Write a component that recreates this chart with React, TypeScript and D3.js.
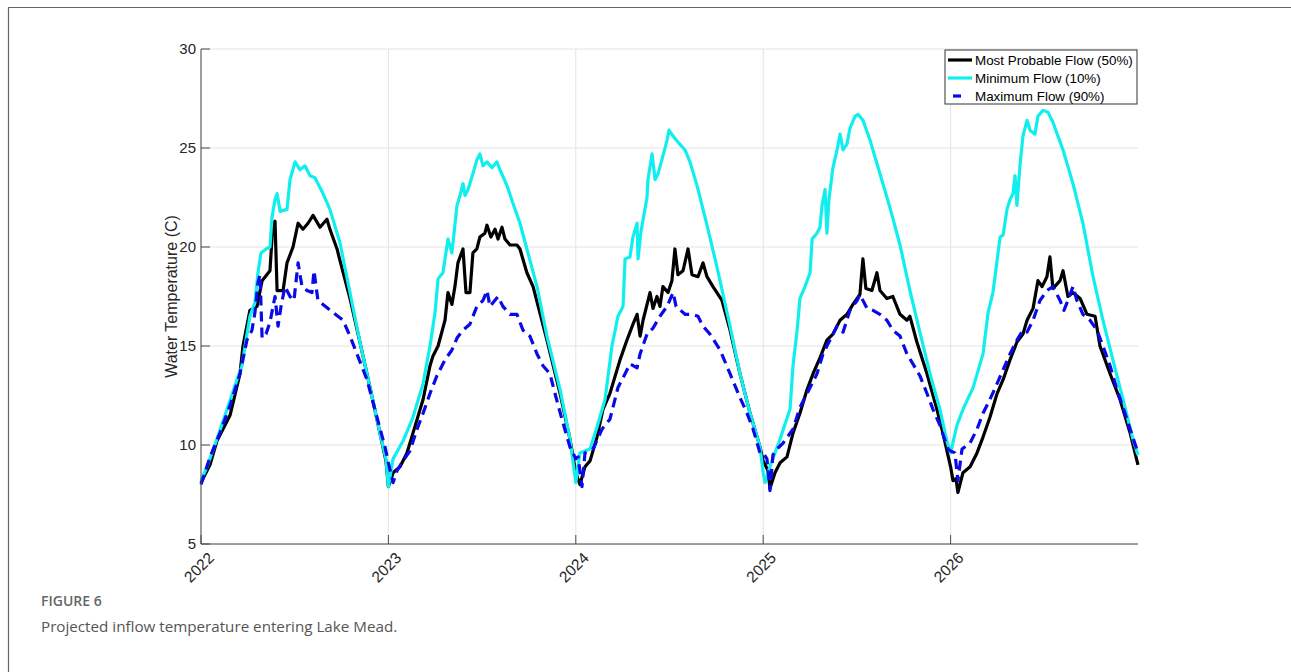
import React from "react";
import * as d3 from "d3";

const yearTicks = [2022, 2023, 2024, 2025, 2026];
const tempTicks = [5, 10, 15, 20, 25, 30];
const seriesNames = ["Most Probable Flow (50%)", "Minimum Flow (10%)", "Maximum Flow (90%)"];
const caption = "Projected inflow temperature entering Lake Mead.";

// [decimal year, water temperature °C]
const mostProbable: [number, number][] = [
  [2022.0, 8.1], [2022.048, 9.0], [2022.085, 10.2], [2022.155, 11.5], [2022.208, 13.6], [2022.224, 15.0],
  [2022.261, 16.8], [2022.299, 17.0], [2022.326, 18.3], [2022.368, 18.8], [2022.384, 21.2], [2022.395, 21.3],
  [2022.406, 17.8], [2022.438, 17.8], [2022.459, 19.2], [2022.491, 20.0], [2022.518, 21.2], [2022.544, 20.9],
  [2022.571, 21.2], [2022.598, 21.6], [2022.635, 21.0], [2022.672, 21.4], [2022.688, 20.9], [2022.726, 19.9],
  [2022.742, 19.3], [2022.795, 17.4], [2022.848, 15.2], [2022.902, 12.9], [2022.955, 10.6], [2022.987, 9.2],
  [2023.0, 7.9], [2023.025, 8.6], [2023.062, 8.9], [2023.099, 9.6], [2023.131, 10.6], [2023.185, 12.3],
  [2023.222, 14.0], [2023.238, 14.5], [2023.265, 15.0], [2023.302, 16.3], [2023.318, 17.7], [2023.339, 17.1],
  [2023.355, 18.0], [2023.371, 19.2], [2023.398, 19.9], [2023.414, 17.7], [2023.435, 17.7], [2023.451, 19.7],
  [2023.472, 19.9], [2023.488, 20.5], [2023.515, 20.7], [2023.526, 21.1], [2023.547, 20.5], [2023.569, 20.9],
  [2023.585, 20.4], [2023.606, 21.0], [2023.622, 20.4], [2023.649, 20.1], [2023.686, 20.1], [2023.702, 19.9],
  [2023.739, 18.7], [2023.772, 18.0], [2023.846, 15.3], [2023.916, 12.6], [2023.969, 10.3], [2024.0, 8.6],
  [2024.022, 8.0], [2024.049, 8.9], [2024.076, 9.2], [2024.113, 10.4], [2024.145, 11.8], [2024.182, 12.6],
  [2024.236, 14.3], [2024.273, 15.3], [2024.305, 16.1], [2024.327, 16.6], [2024.343, 15.5], [2024.359, 16.3],
  [2024.396, 17.7], [2024.412, 16.9], [2024.433, 17.5], [2024.449, 17.0], [2024.465, 18.0], [2024.492, 17.7],
  [2024.513, 18.3], [2024.529, 19.9], [2024.545, 18.6], [2024.572, 18.8], [2024.599, 19.9], [2024.62, 18.6],
  [2024.652, 18.5], [2024.679, 19.2], [2024.7, 18.5], [2024.732, 18.0], [2024.78, 17.3], [2024.823, 15.8],
  [2024.876, 13.6], [2024.93, 11.6], [2024.983, 9.9], [2025.0, 9.2], [2025.026, 8.7], [2025.036, 7.8],
  [2025.063, 8.6], [2025.09, 9.1], [2025.127, 9.4], [2025.159, 10.6], [2025.196, 11.6], [2025.234, 12.8],
  [2025.266, 13.6], [2025.303, 14.4], [2025.34, 15.3], [2025.372, 15.6], [2025.41, 16.3], [2025.447, 16.6],
  [2025.479, 17.1], [2025.516, 17.6], [2025.532, 19.4], [2025.548, 17.9], [2025.58, 17.8], [2025.607, 18.7],
  [2025.623, 17.8], [2025.66, 17.4], [2025.692, 17.5], [2025.73, 16.6], [2025.767, 16.3], [2025.783, 16.5],
  [2025.82, 15.2], [2025.874, 13.6], [2025.927, 11.8], [2025.959, 10.6], [2026.0, 8.9], [2026.013, 8.2],
  [2026.029, 8.3], [2026.039, 7.6], [2026.066, 8.6], [2026.104, 8.9], [2026.141, 9.6], [2026.173, 10.4],
  [2026.21, 11.4], [2026.248, 12.6], [2026.28, 13.3], [2026.317, 14.3], [2026.354, 15.2], [2026.386, 15.6],
  [2026.408, 16.3], [2026.44, 16.9], [2026.466, 18.3], [2026.488, 18.0], [2026.514, 18.5], [2026.53, 19.5],
  [2026.546, 17.9], [2026.584, 18.3], [2026.6, 18.8], [2026.626, 17.5], [2026.653, 17.7], [2026.691, 17.4],
  [2026.728, 16.6], [2026.771, 16.5], [2026.797, 15.0], [2026.851, 13.6], [2026.904, 12.3], [2026.958, 10.6],
  [2027.0, 9.0],
];

const minimumFlow: [number, number][] = [
  [2022.0, 8.2], [2022.032, 8.9], [2022.085, 10.3], [2022.139, 11.8], [2022.192, 13.3], [2022.219, 14.0],
  [2022.235, 15.0], [2022.261, 16.5], [2022.288, 17.2], [2022.304, 18.7], [2022.32, 19.7], [2022.347, 19.9],
  [2022.368, 20.0], [2022.379, 21.5], [2022.395, 22.4], [2022.406, 22.7], [2022.422, 21.8], [2022.459, 21.9],
  [2022.475, 23.4], [2022.502, 24.3], [2022.528, 23.9], [2022.555, 24.1], [2022.582, 23.6], [2022.608, 23.5],
  [2022.651, 22.7], [2022.688, 21.9], [2022.742, 20.2], [2022.795, 17.7], [2022.848, 15.2], [2022.902, 12.9],
  [2022.955, 10.6], [2022.987, 9.3], [2023.0, 7.9], [2023.025, 9.3], [2023.078, 10.2], [2023.131, 11.4],
  [2023.185, 13.1], [2023.222, 15.0], [2023.249, 16.7], [2023.265, 18.4], [2023.291, 18.7], [2023.318, 20.4],
  [2023.339, 19.7], [2023.366, 22.1], [2023.382, 22.6], [2023.398, 23.2], [2023.409, 22.6], [2023.425, 22.9],
  [2023.451, 23.7], [2023.472, 24.4], [2023.488, 24.7], [2023.505, 24.1], [2023.526, 24.3], [2023.553, 24.0],
  [2023.579, 24.3], [2023.595, 23.9], [2023.633, 23.1], [2023.665, 22.2], [2023.702, 21.2], [2023.739, 19.9],
  [2023.793, 18.0], [2023.846, 15.5], [2023.916, 12.8], [2023.969, 10.3], [2024.0, 8.1], [2024.022, 9.6],
  [2024.076, 9.8], [2024.113, 10.9], [2024.156, 12.3], [2024.193, 15.0], [2024.225, 16.5], [2024.252, 17.0],
  [2024.263, 19.4], [2024.289, 19.5], [2024.305, 20.5], [2024.327, 21.2], [2024.332, 19.4], [2024.348, 20.8],
  [2024.38, 22.5], [2024.385, 23.4], [2024.407, 24.7], [2024.423, 23.4], [2024.439, 23.7], [2024.465, 24.6],
  [2024.487, 25.4], [2024.497, 25.9], [2024.519, 25.6], [2024.545, 25.3], [2024.583, 24.9], [2024.609, 24.3],
  [2024.647, 23.1], [2024.7, 21.1], [2024.753, 19.0], [2024.823, 16.0], [2024.876, 13.6], [2024.93, 11.6],
  [2024.983, 9.9], [2025.0, 8.6], [2025.01, 8.1], [2025.036, 8.9], [2025.09, 10.3], [2025.143, 11.8],
  [2025.159, 14.0], [2025.18, 15.7], [2025.196, 17.4], [2025.223, 18.0], [2025.25, 18.7], [2025.261, 20.4],
  [2025.287, 20.7], [2025.303, 21.0], [2025.314, 22.1], [2025.33, 22.9], [2025.34, 20.7], [2025.351, 22.4],
  [2025.372, 24.0], [2025.394, 24.9], [2025.41, 25.7], [2025.426, 24.9], [2025.447, 25.2], [2025.463, 26.0],
  [2025.49, 26.6], [2025.506, 26.7], [2025.532, 26.4], [2025.57, 25.4], [2025.623, 23.7], [2025.676, 22.0],
  [2025.73, 20.1], [2025.783, 17.8], [2025.836, 15.7], [2025.89, 13.6], [2025.943, 11.8], [2025.98, 10.2],
  [2026.0, 9.6], [2026.034, 11.0], [2026.066, 11.8], [2026.12, 12.9], [2026.173, 14.6], [2026.2, 16.7],
  [2026.226, 17.7], [2026.264, 20.5], [2026.28, 20.6], [2026.301, 21.9], [2026.317, 22.4], [2026.333, 22.7],
  [2026.344, 23.6], [2026.354, 22.1], [2026.37, 24.1], [2026.386, 25.6], [2026.408, 26.4], [2026.424, 25.9],
  [2026.45, 25.7], [2026.466, 26.6], [2026.493, 26.9], [2026.52, 26.8], [2026.546, 26.3], [2026.6, 24.9],
  [2026.653, 23.2], [2026.706, 21.2], [2026.76, 18.5], [2026.813, 16.3], [2026.866, 14.3], [2026.92, 12.3],
  [2026.973, 10.3], [2027.0, 9.5],
];

const maximumFlow: [number, number][] = [
  [2022.0, 8.0], [2022.021, 8.6], [2022.048, 9.4], [2022.101, 10.6], [2022.155, 12.0], [2022.208, 13.6],
  [2022.245, 15.3], [2022.272, 15.8], [2022.288, 16.7], [2022.304, 18.2], [2022.315, 18.6], [2022.326, 15.4],
  [2022.347, 15.6], [2022.368, 16.2], [2022.395, 17.5], [2022.411, 16.0], [2022.427, 17.0], [2022.448, 18.0],
  [2022.475, 17.5], [2022.496, 17.3], [2022.518, 19.2], [2022.539, 18.0], [2022.566, 17.8], [2022.592, 17.7],
  [2022.603, 18.8], [2022.624, 17.3], [2022.651, 17.1], [2022.704, 16.7], [2022.758, 16.3], [2022.795, 15.5],
  [2022.832, 14.6], [2022.886, 13.3], [2022.939, 11.4], [2022.982, 9.9], [2023.0, 9.1], [2023.025, 8.1],
  [2023.046, 8.7], [2023.078, 9.2], [2023.115, 9.7], [2023.153, 10.8], [2023.185, 11.6], [2023.222, 12.6],
  [2023.259, 13.5], [2023.302, 14.3], [2023.339, 14.8], [2023.366, 15.4], [2023.398, 15.8], [2023.435, 16.1],
  [2023.472, 17.0], [2023.505, 17.3], [2023.526, 17.8], [2023.542, 17.0], [2023.585, 17.5], [2023.611, 17.0],
  [2023.649, 16.6], [2023.686, 16.6], [2023.718, 15.8], [2023.755, 15.5], [2023.793, 14.6], [2023.825, 14.0],
  [2023.862, 13.6], [2023.889, 12.6], [2023.926, 11.3], [2023.969, 9.9], [2024.0, 9.3], [2024.012, 9.4],
  [2024.033, 7.9], [2024.049, 9.6], [2024.092, 9.8], [2024.14, 10.8], [2024.182, 11.3], [2024.225, 12.9],
  [2024.263, 13.6], [2024.289, 14.1], [2024.327, 13.9], [2024.343, 14.6], [2024.38, 15.6], [2024.412, 15.9],
  [2024.449, 16.5], [2024.487, 17.0], [2024.519, 17.7], [2024.535, 17.0], [2024.583, 16.6], [2024.62, 16.6],
  [2024.652, 16.5], [2024.679, 16.0], [2024.716, 15.6], [2024.77, 14.8], [2024.823, 13.6], [2024.876, 12.4],
  [2024.914, 11.6], [2024.946, 10.8], [2024.983, 9.6], [2025.0, 9.6], [2025.02, 9.3], [2025.036, 7.7],
  [2025.052, 9.5], [2025.074, 9.8], [2025.106, 10.1], [2025.159, 10.8], [2025.196, 11.9], [2025.234, 12.6],
  [2025.287, 13.6], [2025.319, 14.6], [2025.356, 15.3], [2025.394, 16.0], [2025.426, 15.7], [2025.463, 16.8],
  [2025.501, 17.3], [2025.516, 17.6], [2025.554, 16.9], [2025.586, 16.8], [2025.623, 16.6], [2025.66, 16.3],
  [2025.692, 15.8], [2025.73, 15.5], [2025.767, 14.6], [2025.799, 14.1], [2025.836, 13.5], [2025.874, 12.6],
  [2025.906, 11.8], [2025.943, 11.0], [2025.986, 9.8], [2026.0, 9.7], [2026.023, 9.6], [2026.039, 8.2],
  [2026.061, 9.8], [2026.104, 10.1], [2026.141, 10.8], [2026.173, 11.6], [2026.21, 12.3], [2026.248, 13.1],
  [2026.28, 13.8], [2026.317, 14.6], [2026.354, 15.3], [2026.386, 15.8], [2026.408, 15.7], [2026.44, 16.3],
  [2026.477, 17.3], [2026.514, 17.8], [2026.546, 18.0], [2026.584, 17.3], [2026.605, 16.8], [2026.626, 17.3],
  [2026.653, 18.0], [2026.674, 17.3], [2026.706, 16.6], [2026.744, 16.3], [2026.781, 15.8], [2026.813, 15.0],
  [2026.851, 14.0], [2026.888, 12.8], [2026.92, 11.9], [2026.958, 10.8], [2027.0, 9.6],
];

const W = 1291;
const H = 672;
const M = { left: 201, right: 1138, top: 49, bottom: 544 };
const FONT = "Arial, 'Liberation Sans', Helvetica, sans-serif";

export default function App() {
  const x = d3.scaleLinear().domain([2022, 2027]).range([M.left, M.right]);
  const y = d3.scaleLinear().domain([5, 30]).range([M.bottom, M.top]);
  const line = d3
    .line<[number, number]>()
    .x((d) => x(d[0]))
    .y((d) => y(d[1]))
    .curve(d3.curveLinear);

  const axisColor = "#4a4a4a";
  const gridColor = "#e3e3e3";
  const series = [
    { name: seriesNames[0], data: mostProbable, color: "#000000", dash: undefined as string | undefined },
    { name: seriesNames[1], data: minimumFlow, color: "#11eeee", dash: undefined as string | undefined },
    { name: seriesNames[2], data: maximumFlow, color: "#0a0ae8", dash: "10,6" },
  ];
  const legX = 945;
  const legY = 50;

  return (
    <svg
      width={W}
      height={H}
      style={{ position: "absolute", left: 0, top: 0, background: "#fff" }}
      fontFamily={FONT}
    >
      <rect x={0} y={0} width={W} height={H} fill="#fff" />
      {/* outer frame */}
      <line x1={8} x2={W} y1={7.5} y2={7.5} stroke="#666" strokeWidth={1.2} />
      <line x1={8.5} x2={8.5} y1={7} y2={H} stroke="#666" strokeWidth={1.2} />

      {/* grid */}
      {tempTicks.map((t) => (
        <line key={"gy" + t} x1={M.left} x2={M.right} y1={y(t)} y2={y(t)} stroke={gridColor} strokeWidth={1} />
      ))}
      {yearTicks.map((t) => (
        <line key={"gx" + t} x1={x(t)} x2={x(t)} y1={M.top} y2={M.bottom} stroke={gridColor} strokeWidth={1} />
      ))}

      {/* series */}
      {series.map((s) => (
        <path
          key={s.name}
          d={line(s.data) || ""}
          fill="none"
          stroke={s.color}
          strokeWidth={3.2}
          strokeDasharray={s.dash}
          strokeLinejoin="round"
        />
      ))}

      {/* axes */}
      <line x1={M.left} x2={M.left} y1={M.top} y2={M.bottom} stroke={axisColor} strokeWidth={1} />
      <line x1={M.left} x2={M.right} y1={M.bottom} y2={M.bottom} stroke={axisColor} strokeWidth={1} />
      {tempTicks.map((t) => (
        <g key={"ty" + t}>
          <line x1={M.left} x2={M.left + 9} y1={y(t)} y2={y(t)} stroke={axisColor} strokeWidth={1} />
          <text x={M.left - 5} y={y(t)} dy="0.35em" textAnchor="end" fontSize={15} fill="#262626">
            {t}
          </text>
        </g>
      ))}
      {yearTicks.map((t) => (
        <g key={"tx" + t}>
          <line x1={x(t)} x2={x(t)} y1={M.bottom} y2={M.bottom - 9} stroke={axisColor} strokeWidth={1} />
          <text
            transform={`translate(${x(t) + 14},${M.bottom + 15}) rotate(-45)`}
            textAnchor="end"
            fontSize={15.5}
            fill="#262626"
          >
            {t}
          </text>
        </g>
      ))}
      <text
        transform={`translate(177,${(M.top + M.bottom) / 2}) rotate(-90)`}
        textAnchor="middle"
        fontSize={16}
        fill="#262626"
      >
        Water Temperature (C)
      </text>

      {/* legend */}
      <rect x={legX} y={legY} width={192} height={54} fill="#fff" stroke="#333" strokeWidth={1} />
      {series.map((s, i) => {
        const cy = legY + 10 + i * 18;
        return (
          <g key={"leg" + s.name}>
            {s.dash ? (
              <line x1={legX + 8} x2={legX + 16} y1={cy} y2={cy} stroke={s.color} strokeWidth={3.2} />
            ) : (
              <line x1={legX + 3} x2={legX + 27} y1={cy} y2={cy} stroke={s.color} strokeWidth={3.2} />
            )}
            <text x={legX + 30} y={cy} dy="0.35em" fontSize={13.4} fill="#000">
              {s.name}
            </text>
          </g>
        );
      })}

      {/* caption */}
      <text x={41} y={606} fontSize={14} fontWeight={600} fill="#666" fontFamily="'Open Sans', 'Noto Sans', sans-serif">
        FIGURE 6
      </text>
      <text x={41} y={632} fontSize={15.2} fill="#555" fontFamily="'Open Sans', 'Noto Sans', sans-serif">
        {caption}
      </text>
    </svg>
  );
}
